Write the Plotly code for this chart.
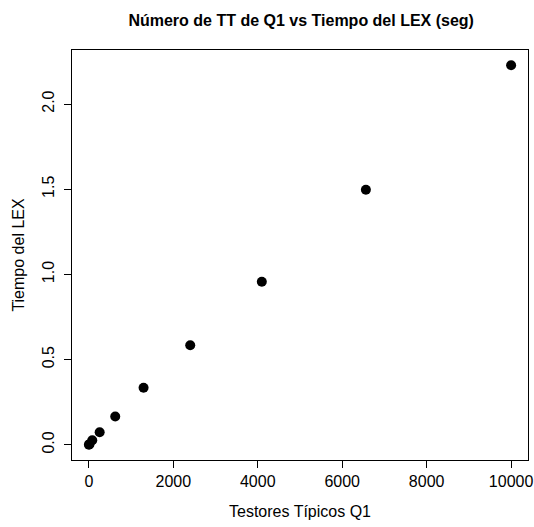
import plotly.graph_objects as go

testores = [1, 16, 81, 256, 625, 1296, 2401, 4096, 6561, 10000]
tiempo = [0.0, 0.004, 0.027, 0.074, 0.166, 0.335, 0.584, 0.957, 1.497, 2.228]
x_ticks = [0, 2000, 4000, 6000, 8000, 10000]
x_tick_labels = ["0", "2000", "4000", "6000", "8000", "10000"]
y_ticks = [0.0, 0.5, 1.0, 1.5, 2.0]
y_tick_labels = ["0.0", "0.5", "1.0", "1.5", "2.0"]

font = "Liberation Sans, Arial, sans-serif"

fig = go.Figure(go.Scatter(
    x=testores, y=tiempo, mode="markers",
    marker=dict(size=10, color="black", line=dict(width=0)),
))

xr = [min(testores) - 0.04 * (max(testores) - min(testores)), max(testores) + 0.04 * (max(testores) - min(testores))]
yr = [min(tiempo) - 0.04 * (max(tiempo) - min(tiempo)), max(tiempo) + 0.04 * (max(tiempo) - min(tiempo))]

fig.update_layout(
    width=534, height=527,
    margin=dict(l=72, r=6, t=50, b=67, autoexpand=False),
    paper_bgcolor="white", plot_bgcolor="white",
    showlegend=False,
    font=dict(family=font, size=16, color="black"),
    title=dict(text="<b>Número de TT de Q1 vs Tiempo del LEX (seg)</b>",
               x=0.564, xanchor="center", y=1 - 20 / 527, yanchor="middle",
               font=dict(size=16, family=font, color="black")),
    xaxis=dict(range=xr, tickvals=x_ticks, ticktext=x_tick_labels, ticks="outside", ticklen=7,
               tickcolor="black", showgrid=False, zeroline=False,
               showline=True, linecolor="black", linewidth=1, mirror=True,
               tickfont=dict(size=16), automargin=False,
               title=dict(text="Testores Típicos Q1", standoff=16, font=dict(size=16))),
    yaxis=dict(range=yr, tickvals=y_ticks, ticktext=y_tick_labels, tickangle=-90,
               ticks="outside", ticklen=7, tickcolor="black", ticklabelstandoff=4,
               showgrid=False, zeroline=False, automargin=False,
               showline=True, linecolor="black", linewidth=1, mirror=True,
               tickfont=dict(size=16),
               title=dict(text="Tiempo del LEX", standoff=10, font=dict(size=16))),
)

fig.write_html("out.html", config={"displayModeBar": False},
               post_script="document.body.style.margin='0';")
